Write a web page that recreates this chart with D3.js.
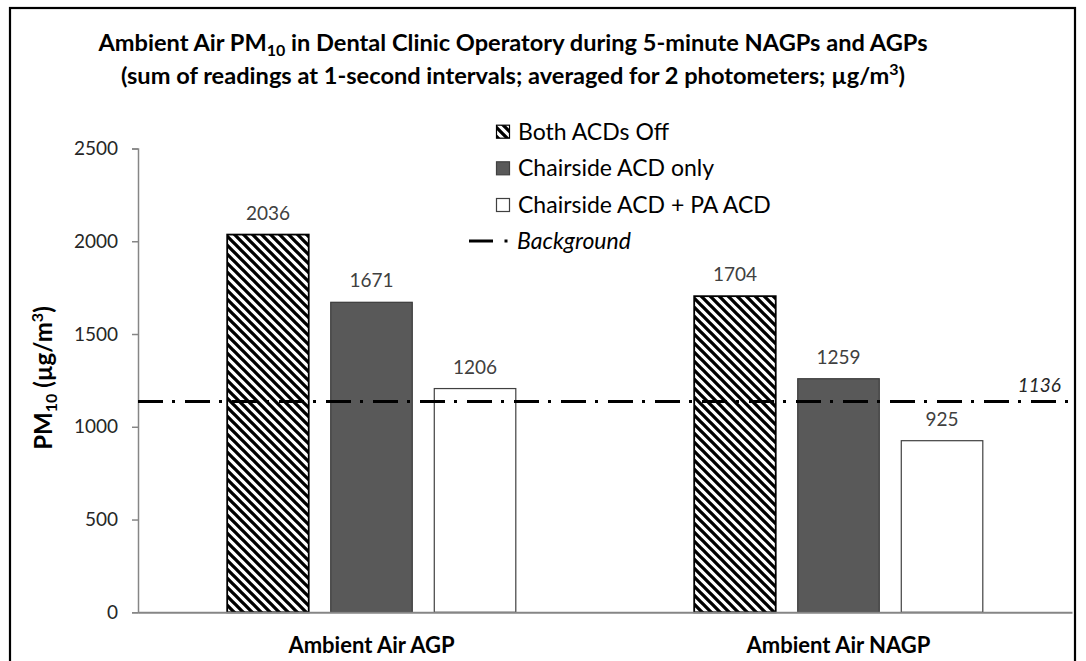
<!DOCTYPE html>
<html><head><meta charset="utf-8">
<script src="https://cdn.jsdelivr.net/npm/d3@7"></script>
<style>body{margin:0;background:#fff}svg{display:block;font-family:Lato,"Open Sans",sans-serif}</style>
</head><body><svg id="c" width="1086" height="661"></svg>
<script>
const categories = ["Ambient Air AGP", "Ambient Air NAGP"];
const seriesNames = ["Both ACDs Off", "Chairside ACD only", "Chairside ACD + PA ACD"];
const bothOff = [2036, 1704];
const chairsideOnly = [1671, 1259];
const chairsidePA = [1206, 925];
const background = 1136;
const yTicks = [0, 500, 1000, 1500, 2000, 2500];

const svg = d3.select("#c");
const defs = svg.append("defs");
const pat = defs.append("pattern").attr("id","hatch").attr("patternUnits","userSpaceOnUse")
  .attr("width",9).attr("height",9);
pat.append("rect").attr("width",9).attr("height",9).attr("fill","#fff");
pat.append("path").attr("d","M-2,-2L11,11M-2,7L2,11M7,-2L11,2").attr("stroke","#000").attr("stroke-width",3.3);

// frame
svg.append("rect").attr("x",10).attr("y",8).attr("width",1065).attr("height",700)
  .attr("fill","none").attr("stroke","#000").attr("stroke-width",2.2);

const fills = ["url(#hatch)", "#595959", "#fff"];
const strokes = ["#000", "#3a3a3a", "#404040"];
const data = categories.map((c,i)=>({cat:c, vals:[bothOff[i], chairsideOnly[i], chairsidePA[i]]}));

const x0 = d3.scaleBand().domain(categories).range([138,1072]).paddingInner(0.382).paddingOuter(0.191);
const x1 = d3.scaleBand().domain(seriesNames).range([0,x0.bandwidth()]).paddingInner(0.2126).paddingOuter(0);
const y = d3.scaleLinear().domain([0,2500]).range([612.3,148.5]);

// y axis
const yAxis = svg.append("g").attr("transform","translate(138,0)")
  .call(d3.axisLeft(y).tickValues(yTicks).tickSize(6).tickPadding(14).tickFormat(d3.format("d")));
yAxis.select(".domain").attr("stroke","#868686").attr("stroke-width",1.5);
yAxis.selectAll(".tick line").attr("stroke","#868686").attr("stroke-width",1.5);
yAxis.selectAll(".tick text").attr("font-size",19).attr("fill","#262626").attr("font-family","Lato");

// bars
const g = svg.append("g");
data.forEach(d=>{
  d.vals.forEach((v,k)=>{
    const xx = x0(d.cat)+x1(seriesNames[k]);
    g.append("rect").attr("x",xx).attr("y",y(v)).attr("width",x1.bandwidth()).attr("height",y(0)-y(v))
      .attr("fill",fills[k]).attr("stroke",strokes[k]).attr("stroke-width",k===0?1.8:1.2);
    g.append("text").attr("x",xx+x1.bandwidth()/2).attr("y",y(v)-15).attr("text-anchor","middle")
      .attr("font-size",19).attr("fill","#404040").text(v);
  });
});

// x axis
const xAxis = svg.append("g").attr("transform",`translate(0,${y(0)})`)
  .call(d3.axisBottom(x0).tickSize(0).tickPadding(0));
xAxis.select(".domain").attr("stroke","#868686").attr("stroke-width",2);
xAxis.selectAll(".tick text").attr("y",41).attr("dy",0).attr("font-size",22).attr("font-weight","bold")
  .attr("fill","#000").attr("font-family","Lato");

// background line
svg.append("line").attr("x1",138).attr("x2",1072).attr("y1",y(background)).attr("y2",y(background))
  .attr("stroke","#000").attr("stroke-width",3).attr("stroke-dasharray","25 9 3 10");
svg.append("text").attr("x",1061).attr("y",y(background)-10).attr("text-anchor","end")
  .attr("font-size",19).attr("font-style","italic").attr("fill","#262626").text(background);

// legend
const leg = svg.append("g");
const rowsY = [131.7, 168.3, 205];
seriesNames.forEach((s,k)=>{
  leg.append("rect").attr("x",496.5).attr("y",rowsY[k]-6.5).attr("width",13).attr("height",13)
    .attr("fill",fills[k]).attr("stroke",k===0?"#000":"#404040").attr("stroke-width",1.2);
  leg.append("text").attr("x",518).attr("y",rowsY[k]).attr("dy","0.35em").attr("font-size",23)
    .attr("fill","#000").text(s);
});
leg.append("line").attr("x1",469).attr("x2",493).attr("y1",241).attr("y2",241).attr("stroke","#000").attr("stroke-width",3);
leg.append("rect").attr("x",504.5).attr("y",239.5).attr("width",3).attr("height",3).attr("fill","#000");
leg.append("text").attr("x",517).attr("y",241).attr("dy","0.35em").attr("font-size",23).attr("font-style","italic")
  .attr("fill","#000").text("Background");

// title
const t = svg.append("text").attr("x",513).attr("y",51).attr("text-anchor","middle")
  .attr("font-size",23.6).attr("font-weight","bold").attr("fill","#000");
t.append("tspan").text("Ambient Air PM");
t.append("tspan").attr("font-size",16).attr("dy",5).text("10");
t.append("tspan").attr("dy",-5).text(" in Dental Clinic Operatory during 5-minute NAGPs and AGPs");
const t2 = svg.append("text").attr("x",513).attr("y",84).attr("text-anchor","middle")
  .attr("font-size",23.6).attr("font-weight","bold").attr("fill","#000");
t2.append("tspan").text("(sum of readings at 1-second intervals; averaged for 2 photometers; µg/m");
t2.append("tspan").attr("font-size",16).attr("dy",-9).text("3");
t2.append("tspan").attr("dy",9).text(")");

// y title
const yt = svg.append("text").attr("transform","translate(52,378) rotate(-90)").attr("text-anchor","middle")
  .attr("font-size",24).attr("font-weight","bold").attr("fill","#000");
yt.append("tspan").text("PM");
yt.append("tspan").attr("font-size",16).attr("dy",5).text("10");
yt.append("tspan").attr("dy",-5).text(" (µg/m");
yt.append("tspan").attr("font-size",16).attr("dy",-9).text("3");
yt.append("tspan").attr("dy",9).text(")");
</script></body></html>
